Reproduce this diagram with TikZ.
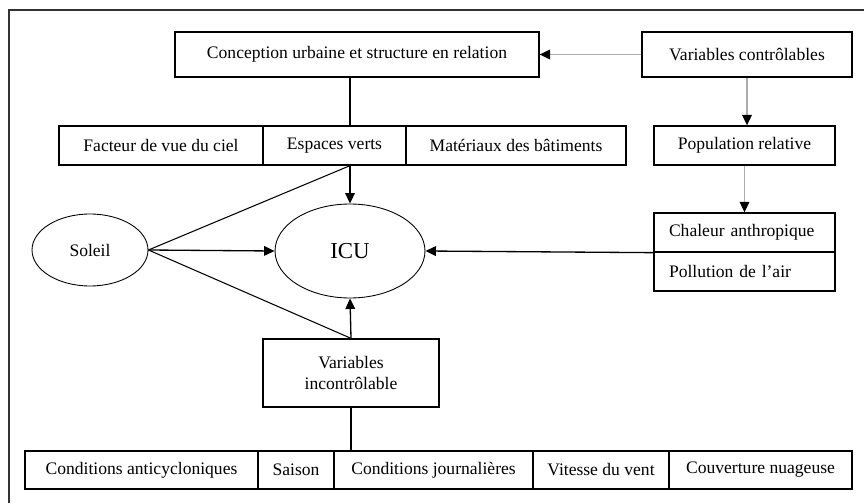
\documentclass[tikz,border=0pt]{standalone}
\usepackage{fontspec}
\setmainfont{Liberation Serif}
\usetikzlibrary{arrows.meta,shapes.geometric}

\begin{document}
\begin{tikzpicture}[x=0.02cm,y=-0.02cm]
\tikzstyle{box}=[rectangle, draw, line width=0.75pt, inner sep=0pt, minimum height=0.78cm, font=\fontsize{10}{12}\selectfont]
\tikzstyle{oval}=[ellipse, draw, line width=0.5pt, inner sep=0pt]
\tikzstyle{arr}=[line width=0.75pt, -{Triangle[length=6pt,width=5.5pt]}]
\tikzstyle{greyarr}=[arr, line width=0.9pt, draw=gray!65, -{Triangle[length=6pt,width=5.5pt,color=black]}]
\tikzstyle{link}=[line width=0.6pt]
\useasboundingbox (0,0) rectangle (864,503);
\draw[line width=0.8pt, black!80] (864,10) -- (9,10) -- (9,503);

% top row
\node[box, minimum width=7.28cm, minimum height=0.9cm] (conc) at (357,54.5) {Conception urbaine et structure en relation};
\node[box, minimum width=4.2cm, minimum height=0.9cm] (varc) at (747,54.5) {Variables contrôlables};

% second row
\node[box, minimum width=4.08cm] (fvc) at (161,145.5) {Facteur de vue du ciel};
\node[box, minimum width=2.86cm] (ev) at (334.5,145.5) {Espaces verts};
\node[box, minimum width=4.4cm] (mat) at (516,145.5) {Matériaux des bâtiments};
\node[box, minimum width=3.62cm] (pop) at (744.5,145.5) {Population relative};

% middle
\node[oval, minimum width=3.0cm, minimum height=1.88cm, font=\fontsize{13}{15}\selectfont] (icu) at (350,251) {ICU};
\node[oval, minimum width=2.32cm, minimum height=1.44cm, font=\fontsize{10}{12}\selectfont] (sol) at (90,250) {Soleil};
\node[box, text width=3.02cm, inner xsep=0.3cm, align=left] (chal) at (744.5,232.5) {Chaleur anthropique};
\node[box, text width=3.02cm, inner xsep=0.3cm, align=left] (poll) at (744.5,271.5) {Pollution de l’air};
\node[box, minimum width=3.52cm, minimum height=1.36cm, align=center] (vinc) at (351,373) {Variables\\incontrôlable};

% bottom row
\node[box, minimum width=4.66cm, minimum height=0.76cm] (ca) at (141.5,470) {Conditions anticycloniques};
\node[box, minimum width=1.52cm, minimum height=0.76cm] (sai) at (296,470) {Saison};
\node[box, minimum width=3.98cm, minimum height=0.76cm] (cj) at (433.5,470) {Conditions journalières};
\node[box, minimum width=2.72cm, minimum height=0.76cm] (vv) at (601,470) {Vitesse du vent};
\node[box, minimum width=3.66cm, minimum height=0.76cm] (cn) at (760.5,470) {Couverture nuageuse};

\path
(varc.west) edge[greyarr] (conc.east)
(varc.south) edge[greyarr] (varc.south |- pop.north)
(pop.south) edge[greyarr] (chal.north)
(conc.south -| icu) edge[link] (ev.north -| icu)
(ev.south -| icu) edge[arr] (icu.north)
(vinc.north) edge[arr] (icu.south)
(vinc.south) edge[link] (vinc.south |- cj.north)
(chal.south west) edge[arr] (icu.east)
(sol.east) edge[arr] (icu.west)
    edge[link] (ev.south -| icu)
    edge[link] (vinc.north);

\end{tikzpicture}
\end{document}
